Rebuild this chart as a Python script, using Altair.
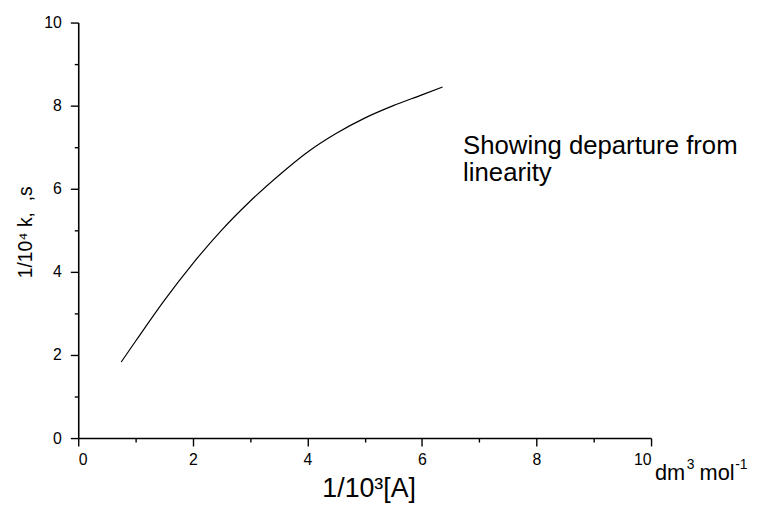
import altair as alt
import pandas as pd

# Curve
x_vals = [0.75, 1.0, 1.5, 2.0, 2.5, 3.0, 3.5, 4.0, 4.5, 5.0, 5.5, 6.0, 6.36]
y_vals = [1.83, 2.33, 3.31, 4.20, 5.00, 5.70, 6.32, 6.88, 7.33, 7.70, 8.00, 8.26, 8.45]

major_ticks = [0, 2, 4, 6, 8, 10]
minor_ticks = [1, 3, 5, 7, 9]

x_title = "1/10³[A]"
unit_parts = ["dm", "3", "mol", "-1"]
y_title = "1/10⁴ k,\u00a0\u00a0,s"
note_text = "Showing departure from\nlinearity"

FONT = "Liberation Sans"

df = pd.DataFrame({"x": x_vals, "y": y_vals})

xs = alt.Scale(domain=[0, 10], nice=False, zero=False)
ys = alt.Scale(domain=[0, 10], nice=False, zero=False)

common = dict(grid=False, domainColor="black", domainWidth=1.6, tickColor="black",
              tickWidth=1.4, labelColor="black", labelFont=FONT, labelFontSize=16,
              title=None)

line = alt.Chart(df).mark_line(color="black", strokeWidth=1.2, interpolate="monotone").encode(
    x=alt.X("x:Q", scale=xs, axis=alt.Axis(values=major_ticks, tickSize=8, orient="bottom",
                                           labelPadding=6, **common)),
    y=alt.Y("y:Q", scale=ys, axis=alt.Axis(values=major_ticks, tickSize=8, orient="left",
                                           labelPadding=9, **common)),
)

minor = alt.Chart(df).mark_line(opacity=0).encode(
    x=alt.X("x:Q", scale=xs, axis=alt.Axis(values=minor_ticks, tickSize=4, orient="bottom",
                                           labels=False, domain=False, grid=False,
                                           tickColor="black", tickWidth=1.4, title=None)),
    y=alt.Y("y:Q", scale=ys, axis=alt.Axis(values=minor_ticks, tickSize=4, orient="left",
                                           labels=False, domain=False, grid=False,
                                           tickColor="black", tickWidth=1.4, title=None)),
)

def label(text, x, y, size, align="left", angle=0, **kw):
    return alt.Chart(pd.DataFrame({"t": [text]})).mark_text(
        font=FONT, fontSize=size, color="black", align=align, baseline="alphabetic",
        angle=angle, **kw
    ).encode(text="t:N", x=alt.value(x), y=alt.value(y))

xt = label(x_title, 294, 480, 27, align="center")
u1 = label(unit_parts[0], 583, 462, 22)
u2 = label(unit_parts[1], 615, 451, 14)
u3 = label(unit_parts[2], 628, 462, 22)
u4 = label(unit_parts[3], 664, 451, 14)
yt = label(y_title, -47, 212, 19.5, align="center", angle=270)
note = label(note_text, 389, 133, 26, lineBreak="\n", lineHeight=27)

chart = alt.layer(line, minor, xt, u1, u2, u3, u4, yt, note).resolve_axis(
    x="independent", y="independent"
).properties(
    width=579, height=420,
    padding={"left": 71, "top": 12, "right": 100, "bottom": 71},
    autosize=alt.AutoSizeParams(type="none"),
).configure_view(stroke=None)

chart.save("out.html", embed_options={"renderer": "svg", "actions": False})
